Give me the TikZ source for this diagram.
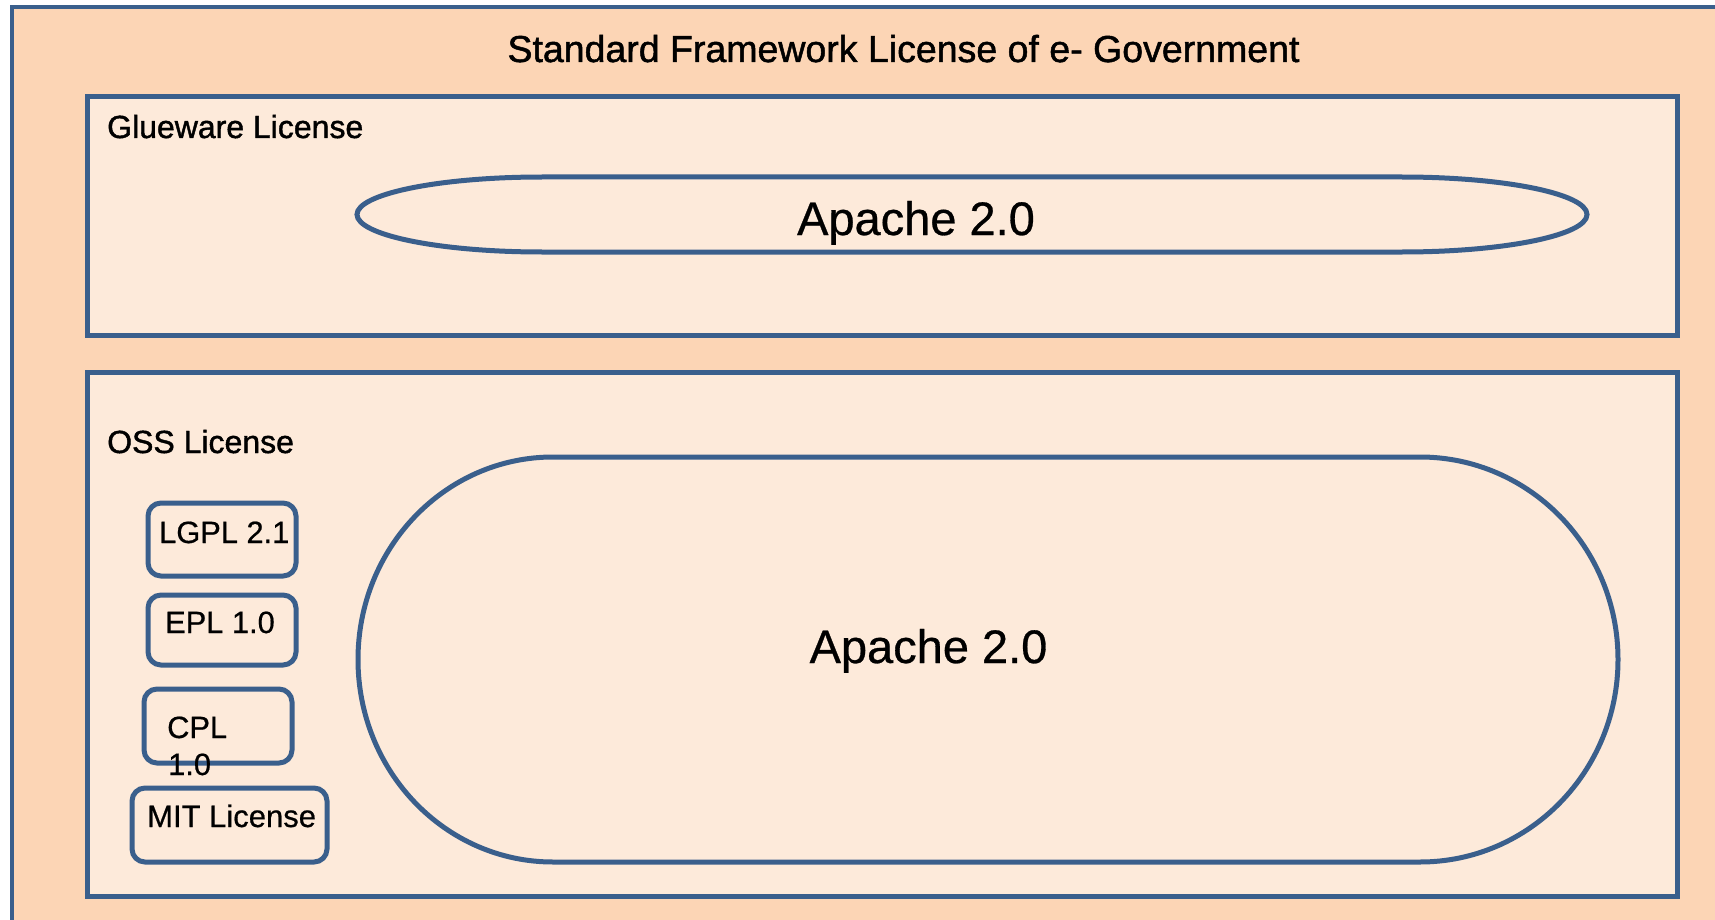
\documentclass[tikz,border=0pt]{standalone}
\usepackage{fontspec}
\setmainfont[FakeBold=0.6]{Liberation Sans}
\newfontfamily\heavyfont[FakeBold=1.3]{Liberation Sans}
\definecolor{outerfill}{HTML}{FCD5B5}
\definecolor{innerfill}{HTML}{FDEADA}
\definecolor{bordercol}{HTML}{3A5F8C}
\tikzset{
  framebox/.style={draw=bordercol, fill=innerfill, line width=5pt},
  smallbox/.style={draw=bordercol, line width=5pt, rounded corners=13pt},
  lbl/.style={inner sep=0pt, anchor=base west, text=black},
  fs/.style={font=\fontsize{#1}{#1}\selectfont},
  hfs/.style={font=\heavyfont\fontsize{#1}{#1}\selectfont}
}
\begin{document}
\begin{tikzpicture}[x=1pt,y=1pt]
\useasboundingbox (0,0) rectangle (1715,-920);
\clip (0,0) rectangle (1715,-920);
\fill[white] (0,0) rectangle (1715,-920);
% outer frame
\draw[draw=bordercol, fill=outerfill, line width=4pt] (12,-7.5) rectangle (1780,-980);
\node[lbl, anchor=base, hfs=37.5] (title) at (903.5,-62) {Standard Framework License of e- Government};
% glueware box
\draw[framebox] (87,-96.5) rectangle (1677.5,-335);
\node[lbl, hfs=32] (glue) at (107,-138) {Glueware License};
\draw[draw=bordercol, line width=5pt]
  (542,-177) -- (1402,-177)
  arc[start angle=90, end angle=-90, x radius=185pt, y radius=37.5pt]
  -- (542,-252)
  arc[start angle=270, end angle=90, x radius=185pt, y radius=37.5pt] -- cycle;
\node[lbl, anchor=base, fs=47] (apacheA) at (916,-235) {Apache 2.0};
% OSS box
\draw[framebox] (87,-372) rectangle (1677.5,-896);
\node[lbl, hfs=32] (oss) at (107,-453) {OSS License};
\draw[draw=bordercol, line width=5pt]
  (553,-457) -- (1420,-457)
  arc[start angle=90, end angle=-90, x radius=198pt, y radius=202.5pt]
  -- (553,-862)
  arc[start angle=270, end angle=90, x radius=195pt, y radius=202.5pt] -- cycle;
\node[lbl, anchor=base, fs=47] (apacheB) at (928.5,-663) {Apache 2.0};
% small boxes
\draw[smallbox] (148,-503) rectangle (296,-576);
\node[lbl, fs=30.8] (lgpl) at (159,-543) {LGPL 2.1};
\draw[smallbox] (148,-595) rectangle (296,-665);
\node[lbl, fs=30.8] (epl) at (165,-633) {EPL 1.0};
\draw[smallbox] (144,-689) rectangle (292,-763);
\node[lbl, fs=30.8] (cpl) at (167,-738) {CPL};
\node[lbl, fs=30.8] (cplv) at (168,-775) {1.0};
\draw[smallbox] (132,-788) rectangle (327,-862);
\node[lbl, fs=31] (mit) at (147,-827) {MIT License};
\end{tikzpicture}
\end{document}
